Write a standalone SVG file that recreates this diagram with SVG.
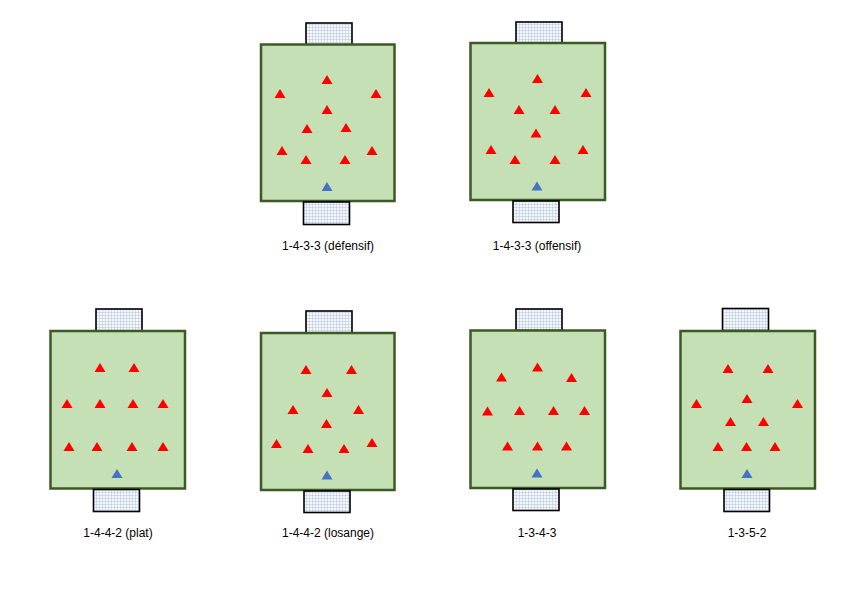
<svg xmlns="http://www.w3.org/2000/svg" xmlns:xlink="http://www.w3.org/1999/xlink" width="846" height="602" viewBox="0 0 846 602">
<style>
.field{fill:#c5e0b4;stroke:#3b5a25;stroke-width:2.5}
.goal{fill:url(#net);stroke:#000;stroke-width:1.6}
.lbl{font-family:"Liberation Sans",Arial,sans-serif;font-size:12px;fill:#000;text-anchor:middle}
</style>
<defs>
<pattern id="net" patternUnits="userSpaceOnUse" width="3" height="3">
<rect width="3" height="3" fill="#f4f7fc"/>
<path d="M0,0.25H3M0.25,0V3" stroke="#aebcd8" stroke-width="0.6" fill="none"/>
</pattern>
<path id="r" d="M0,-5 L5.5,4 L-5.5,4 Z" fill="#ff0000"/>
<path id="b" d="M0,-5 L5.5,4 L-5.5,4 Z" fill="#4472c4"/>
</defs>
<rect width="846" height="602" fill="#fff"/>

<g id="f-1433-def">
<rect class="goal" x="306" y="23" width="46" height="22"/>
<rect class="field" x="261" y="44.5" width="133.5" height="156.5"/>
<rect class="goal" x="303.5" y="202" width="46" height="22.5"/>
<use href="#r" x="327" y="80"/><use href="#r" x="280" y="94"/><use href="#r" x="376" y="94"/>
<use href="#r" x="327" y="110"/><use href="#r" x="307" y="129"/><use href="#r" x="346" y="128"/>
<use href="#r" x="282" y="151"/><use href="#r" x="306" y="160"/><use href="#r" x="345" y="160"/><use href="#r" x="372" y="151"/>
<use href="#b" x="327" y="187"/>
<text class="lbl" x="328" y="250">1-4-3-3 (défensif)</text>
</g>

<g id="f-1433-off">
<rect class="goal" x="516" y="22" width="46" height="21"/>
<rect class="field" x="470.5" y="43" width="134.5" height="157"/>
<rect class="goal" x="513" y="201" width="46" height="21.5"/>
<use href="#r" x="537.5" y="79"/><use href="#r" x="489" y="93"/><use href="#r" x="586" y="93"/>
<use href="#r" x="519" y="110"/><use href="#r" x="555" y="110"/><use href="#r" x="536" y="133.5"/>
<use href="#r" x="491" y="150"/><use href="#r" x="515" y="160"/><use href="#r" x="555" y="160"/><use href="#r" x="583" y="150"/>
<use href="#b" x="537" y="186.5"/>
<text class="lbl" x="537" y="250">1-4-3-3 (offensif)</text>
</g>

<g id="f-1442-plat">
<rect class="goal" x="96" y="309" width="46" height="22"/>
<rect class="field" x="50.5" y="331" width="134.5" height="157.5"/>
<rect class="goal" x="93.5" y="489.5" width="46" height="22"/>
<use href="#r" x="100" y="368"/><use href="#r" x="134" y="368"/>
<use href="#r" x="67" y="404"/><use href="#r" x="100" y="404"/><use href="#r" x="133" y="404"/><use href="#r" x="163" y="404"/>
<use href="#r" x="69" y="447"/><use href="#r" x="97" y="447"/><use href="#r" x="132" y="447"/><use href="#r" x="163" y="447"/>
<use href="#b" x="117" y="474"/>
<text class="lbl" x="118" y="537">1-4-4-2 (plat)</text>
</g>

<g id="f-1442-losange">
<rect class="goal" x="306" y="311" width="46" height="22"/>
<rect class="field" x="261" y="333" width="133.5" height="157"/>
<rect class="goal" x="304" y="491" width="46" height="21.5"/>
<use href="#r" x="306" y="370"/><use href="#r" x="351.5" y="370"/><use href="#r" x="327" y="393"/>
<use href="#r" x="293" y="410"/><use href="#r" x="358.5" y="410"/><use href="#r" x="326.5" y="424"/>
<use href="#r" x="276.5" y="444"/><use href="#r" x="308" y="449"/><use href="#r" x="344" y="449"/><use href="#r" x="372" y="443"/>
<use href="#b" x="327" y="475.5"/>
<text class="lbl" x="328" y="537">1-4-4-2 (losange)</text>
</g>

<g id="f-1343">
<rect class="goal" x="516" y="309" width="46" height="21.5"/>
<rect class="field" x="470.5" y="330.5" width="134.5" height="157.5"/>
<rect class="goal" x="513" y="489" width="46" height="21.5"/>
<use href="#r" x="501.5" y="377.5"/><use href="#r" x="537.5" y="367.5"/><use href="#r" x="571.5" y="378"/>
<use href="#r" x="487.5" y="411.5"/><use href="#r" x="519.5" y="411"/><use href="#r" x="553.5" y="411"/><use href="#r" x="584.5" y="411"/>
<use href="#r" x="507.5" y="446.5"/><use href="#r" x="537.5" y="446.5"/><use href="#r" x="566.5" y="446.5"/>
<use href="#b" x="537" y="473.5"/>
<text class="lbl" x="537" y="537">1-3-4-3</text>
</g>

<g id="f-1352">
<rect class="goal" x="722.5" y="308.5" width="46" height="22"/>
<rect class="field" x="680.5" y="331" width="134.5" height="157.5"/>
<rect class="goal" x="724" y="489.5" width="45.5" height="22"/>
<use href="#r" x="728" y="369"/><use href="#r" x="768" y="369"/>
<use href="#r" x="696.5" y="404"/><use href="#r" x="747" y="399"/><use href="#r" x="797.5" y="404"/>
<use href="#r" x="730.5" y="422"/><use href="#r" x="763.5" y="422"/>
<use href="#r" x="718" y="447"/><use href="#r" x="746.5" y="447"/><use href="#r" x="775" y="447"/>
<use href="#b" x="747" y="474"/>
<text class="lbl" x="747" y="537">1-3-5-2</text>
</g>
</svg>
